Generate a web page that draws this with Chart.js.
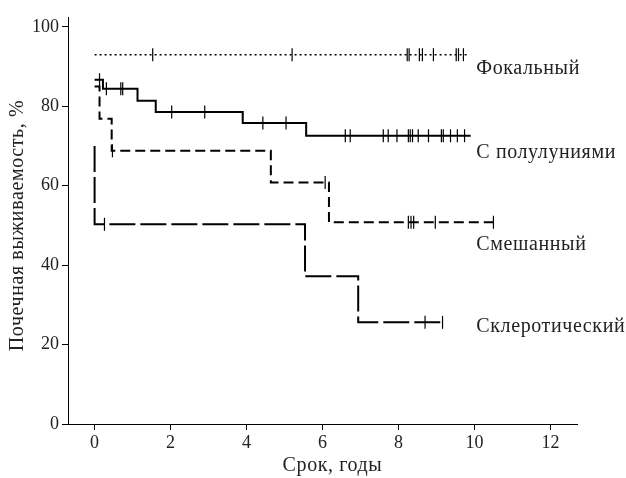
<!DOCTYPE html>
<html>
<head>
<meta charset="utf-8">
<script src="https://cdn.jsdelivr.net/npm/chart.js@4"></script>
<style>
  body { margin: 0; background: #fff; }
  #wrap { width: 626px; height: 478px; }
</style>
</head>
<body>
<div id="wrap"><canvas id="grafico" width="626" height="478"></canvas></div>
<script>
// Kaplan-Meier curves: step times (years) and survival (%)
const seriesNames = ["Фокальный", "С полулуниями", "Смешанный", "Склеротический"];

const focalTimes = [0, 9.8];
const focalSurv = [93, 93];
const focalCensor = [1.53, 5.2, 8.23, 8.28, 8.55, 8.63, 8.92, 9.52, 9.58, 9.71];

const crescTimes = [0, 0.22, 1.13, 1.61, 3.9, 5.57, 9.9];
const crescSurv = [86.7, 84.4, 81.4, 78.6, 75.8, 72.6, 72.6];
const crescCensor = [0.13, 0.31, 0.69, 0.74, 2.03, 2.9, 4.43, 5.04, 6.6, 6.73, 7.6, 7.73, 7.96,
    8.26, 8.31, 8.37, 8.52, 8.79, 9.13, 9.18, 9.37, 9.55, 9.74];

const mixedTimes = [0, 0.13, 0.45, 4.64, 6.17, 10.5];
const mixedSurv = [85, 76.9, 68.8, 60.8, 50.8, 50.8];
const mixedCensor = [0.47, 6.07, 8.26, 8.33, 8.4, 8.97, 10.5];

const sclerTimes = [0, 0, 5.54, 6.94, 9.23];
const sclerSurv = [70, 50.3, 37.2, 25.6, 25.6];
const sclerCensor = [0.26, 8.7, 9.16];

const xTickValues = [0, 2, 4, 6, 8, 10, 12];
const yTickValues = [0, 20, 40, 60, 80, 100];

const xTitle = "Срок, годы";
const yTitle = "Почечная выживаемость, %";

const serif = "'Liberation Serif', 'DejaVu Serif', serif";

function survAt(times, surv, t) {
    let v = surv[0];
    for (let i = 0; i < times.length; i++) {
        if (times[i] <= t) v = surv[i];
    }
    return v;
}

function curve(times, surv, dash, width) {
    return {
        data: times.map((t, i) => ({ x: t, y: surv[i] })),
        showLine: true,
        stepped: "before",
        borderColor: "#000",
        borderWidth: width,
        borderDash: dash,
        pointRadius: 0,
        clip: false
    };
}

function censor(times, surv, marks) {
    return {
        data: marks.map(t => ({ x: t, y: survAt(times, surv, t) })),
        showLine: false,
        pointStyle: "line",
        rotation: 90,
        pointRadius: 6.5,
        borderColor: "#000",
        borderWidth: 1.2,
        clip: false
    };
}

// curve names and axis titles (drawn by hand to get the wider letter spacing)
const textLayer = {
    id: "textLayer",
    afterDraw(chart) {
        const ctx = chart.ctx;
        const xs = chart.scales.x, ys = chart.scales.y;
        const levels = [89.4, 68.3, 45.2, 24.4];
        ctx.save();
        ctx.font = "20px " + serif;
        ctx.letterSpacing = "0.6px";
        ctx.fillStyle = "#222";
        ctx.textBaseline = "middle";
        seriesNames.forEach((name, i) => {
            ctx.fillText(name, xs.getPixelForValue(10.05), ys.getPixelForValue(levels[i]));
        });
        ctx.textAlign = "center";
        ctx.fillText(xTitle, (chart.chartArea.left + chart.chartArea.right) / 2 + 10, 466);
        ctx.translate(18, (chart.chartArea.top + chart.chartArea.bottom) / 2 + 5);
        ctx.rotate(-Math.PI / 2);
        ctx.fillText(yTitle, 0, 0);
        ctx.restore();
    }
};

function criarGrafico() {
    const canvas = document.getElementById("grafico");

    new Chart(canvas, {
        type: "scatter",
        data: {
            datasets: [
                curve(focalTimes, focalSurv, [2, 3], 1.5),
                censor(focalTimes, focalSurv, focalCensor),
                curve(crescTimes, crescSurv, [], 2),
                censor(crescTimes, crescSurv, crescCensor),
                curve(mixedTimes, mixedSurv, [10, 5], 2),
                censor(mixedTimes, mixedSurv, mixedCensor),
                curve(sclerTimes, sclerSurv, [26, 5], 2),
                censor(sclerTimes, sclerSurv, sclerCensor)
            ]
        },
        options: {
            responsive: false,
            animation: false,
            layout: { padding: { top: 17, right: 49, left: 0, bottom: 0 } },
            plugins: { legend: { display: false }, tooltip: { enabled: false } },
            scales: {
                x: {
                    type: "linear",
                    min: -0.7,
                    max: 12.7,
                    afterBuildTicks: s => { s.ticks = xTickValues.map(v => ({ value: v })); },
                    afterFit: s => { s.height = 54; },
                    grid: { drawOnChartArea: false, tickLength: 6, color: "#000" },
                    border: { color: "#000", width: 1 },
                    ticks: { color: "#222", font: { family: serif, size: 18 }, padding: 2 }
                },
                y: {
                    min: 0,
                    max: 102.5,
                    afterBuildTicks: s => { s.ticks = yTickValues.map(v => ({ value: v })); },
                    afterFit: s => { s.width = 68; },
                    grid: { drawOnChartArea: false, tickLength: 6, color: "#000" },
                    border: { color: "#000", width: 1 },
                    ticks: { color: "#222", font: { family: serif, size: 18 }, padding: 3 }
                }
            }
        },
        plugins: [textLayer]
    });
}

window.onload = criarGrafico;
</script>
</body>
</html>
